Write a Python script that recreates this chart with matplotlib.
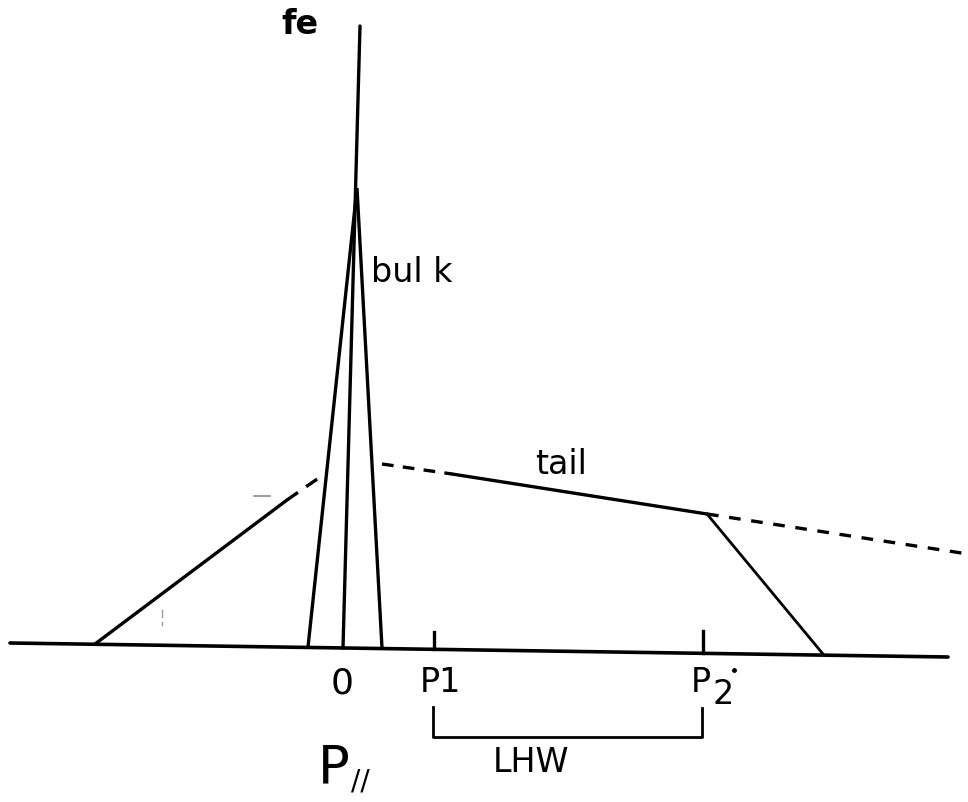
import matplotlib
matplotlib.use("Agg")
import matplotlib.pyplot as plt

# Sketch of the electron distribution f_e(p_par): bulk peak plus a tail
# Coordinates are in drawing units (x to the right, y downwards)
axis_line_x = [10, 948]
axis_line_y = [643, 657]

fe_axis_x = [360, 343]
fe_axis_y = [26, 648]

bulk_x = [308, 357, 382]
bulk_y = [647, 188, 648]

left_wing_x = [95, 287]
left_wing_y = [644, 500]
left_dash_x = [287, 323]
left_dash_y = [500, 475]

tail_dash_x = [382, 452]
tail_dash_y = [464, 474]
tail_x = [452, 707]
tail_y = [474, 514]
tail_ext_x = [707, 968]
tail_ext_y = [514, 554]

cutoff_x = [707, 823]
cutoff_y = [514, 654]

tick_x = [434, 703]
tick_top = [632, 631]
tick_bottom = [649, 653]

bracket_x = [433, 433, 702, 702]
bracket_y = [707, 737, 737, 708]

fig = plt.figure(figsize=(9.68, 8.02), dpi=100)
ax = fig.add_axes([0, 0, 1, 1])
ax.set_xlim(0, 968)
ax.set_ylim(802, 0)
ax.axis("off")

k = "black"
ax.plot(axis_line_x, axis_line_y, color=k, lw=2.6, solid_capstyle="round")
ax.plot(fe_axis_x, fe_axis_y, color=k, lw=2.4, solid_capstyle="round")
ax.plot(bulk_x, bulk_y, color=k, lw=2.4, solid_joinstyle="miter")
ax.plot(left_wing_x, left_wing_y, color=k, lw=2.4, solid_capstyle="round")
ax.plot(left_dash_x, left_dash_y, color=k, lw=2.4, dashes=(4, 3))
ax.plot(tail_dash_x, tail_dash_y, color=k, lw=2.4, dashes=(3.5, 2.8))
ax.plot(tail_x, tail_y, color=k, lw=2.4, solid_capstyle="round")
ax.plot(tail_ext_x, tail_ext_y, color=k, lw=2.4, dashes=(3.5, 3.2))
ax.plot(cutoff_x, cutoff_y, color=k, lw=2.0)
for x, t, b in zip(tick_x, tick_top, tick_bottom):
    ax.plot([x, x], [t, b], color=k, lw=2.4)
ax.plot(bracket_x, bracket_y, color=k, lw=2.0)

# faint stray marks
ax.plot([254, 270], [496, 496], color="0.55", lw=1.2)
ax.plot([162, 162], [610, 617], color="0.6", lw=1.0)
ax.plot([162, 162], [622, 625], color="0.6", lw=1.0)
ax.plot([734], [670], marker="o", ms=2.5, color=k)

fs = 24
ax.text(300, 25, "fe", fontsize=fs, ha="center", va="center", fontweight="bold")
ax.text(412, 272, "bul k", fontsize=fs, ha="center", va="center")
ax.text(561, 464, "tail", fontsize=fs, ha="center", va="center")
ax.text(342, 683, "0", fontsize=26, ha="center", va="center")
ax.text(440, 683, "P1", fontsize=fs, ha="center", va="center")
ax.text(701, 683, "P", fontsize=fs, ha="center", va="center")
ax.text(723, 695, "2", fontsize=fs, ha="center", va="center")
ax.text(531, 762, "LHW", fontsize=fs, ha="center", va="center")
ax.text(334, 768, "P", fontsize=38, ha="center", va="center")
ax.text(360, 781, "//", fontsize=20, ha="center", va="center")

fig.savefig("out.png", dpi=100)
